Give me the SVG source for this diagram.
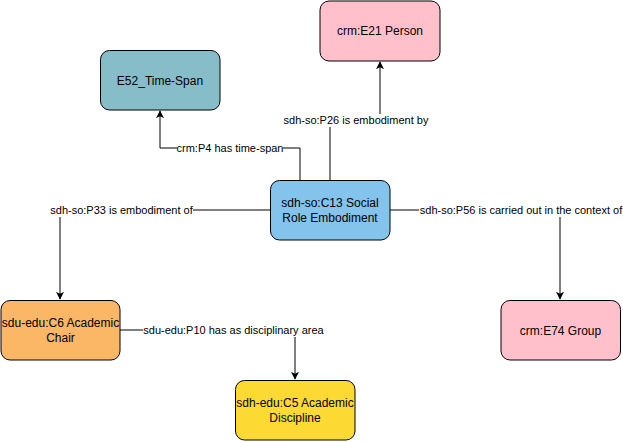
<svg xmlns="http://www.w3.org/2000/svg" width="623" height="442" viewBox="0 0 623 442">
<style>
.node rect{stroke:#000;stroke-width:1}
.node text{font-family:"Liberation Sans",Arial,sans-serif;font-size:12px;fill:#000;text-anchor:middle}
.edge path{fill:none;stroke:#000;stroke-width:1}
.lbl rect{fill:#fff}
.lbl text{font-family:"Liberation Sans",Arial,sans-serif;font-size:11px;fill:#000;text-anchor:middle}
</style>
<defs>
<marker id="arr" viewBox="0 0 10 10" refX="9" refY="5" markerWidth="8" markerHeight="8" markerUnits="userSpaceOnUse" orient="auto">
<path d="M0,0 L10,5 L0,10 L2.5,5 Z" fill="#000"/>
</marker>
</defs>
<rect width="623" height="442" fill="#fff"/>
<g id="connectors">
<g class="edge">
<path d="M330,180 V120 H380 V62" marker-end="url(#arr)"/>
<path d="M300,180 V148 H160 V111" marker-end="url(#arr)"/>
<path d="M270,210 H60 V299" marker-end="url(#arr)"/>
<path d="M390,210 H560 V299" marker-end="url(#arr)"/>
<path d="M120,330 H295 V379" marker-end="url(#arr)"/>
</g>
<g class="lbl">
<rect x="283" y="114" width="146" height="13"/>
<text x="356" y="124">sdh-so:P26 is embodiment by</text>
<rect x="177" y="142" width="106" height="13"/>
<text x="230" y="152">crm:P4 has time-span</text>
<rect x="50" y="204" width="143" height="13"/>
<text x="121.5" y="214">sdh-so:P33 is embodiment of</text>
<rect x="419" y="204" width="204" height="13"/>
<text x="521" y="214">sdh-so:P56 is carried out in the context of</text>
<rect x="143" y="324" width="181" height="13"/>
<text x="233.5" y="334">sdu-edu:P10 has as disciplinary area</text>
</g>
</g>
<g id="e21" class="node"><rect x="320" y="1" width="120" height="60" rx="9" fill="#FFC0CB"/><text x="380" y="35">crm:E21 Person</text></g>
<g id="e52" class="node"><rect x="100.5" y="50.5" width="119.5" height="59.5" rx="9" fill="#87BDC9"/><text x="160" y="84.5">E52_Time-Span</text></g>
<g id="c13" class="node"><rect x="270.5" y="180.5" width="119.5" height="59.5" rx="9" fill="#83C3EC"/><text x="330" y="207">sdh-so:C13 Social</text><text x="330" y="222">Role Embodiment</text></g>
<g id="c6" class="node"><rect x="1" y="300.5" width="119" height="59.5" rx="9" fill="#FBB766"/><text x="60.5" y="327">sdu-edu:C6 Academic</text><text x="60.5" y="342">Chair</text></g>
<g id="c5" class="node"><rect x="235.5" y="380.5" width="119.5" height="59.5" rx="9" fill="#FDDA33"/><text x="295" y="407">sdh-edu:C5 Academic</text><text x="295" y="422">Discipline</text></g>
<g id="e74" class="node"><rect x="501" y="300.5" width="119.5" height="59.5" rx="9" fill="#FFC0CB"/><text x="560.5" y="334.5">crm:E74 Group</text></g>
</svg>
